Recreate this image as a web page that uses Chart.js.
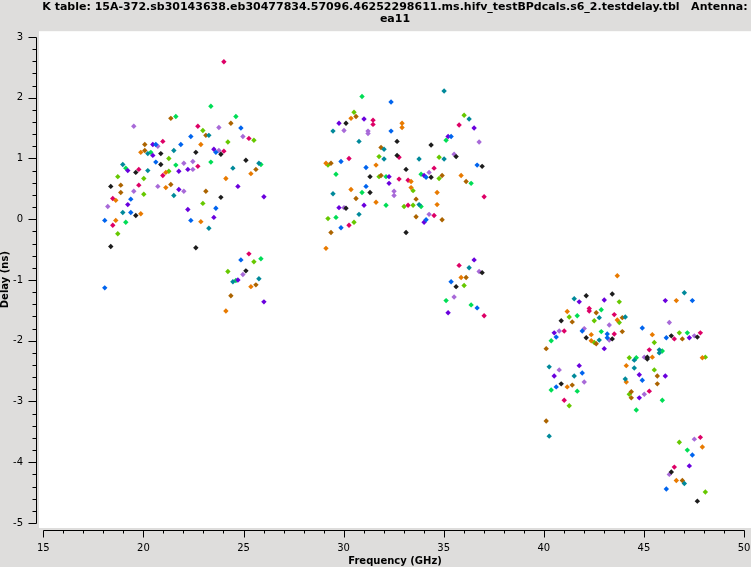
<!DOCTYPE html>
<html>
<head>
<meta charset="utf-8">
<script src="https://cdn.jsdelivr.net/npm/chart.js@4.4.1/dist/chart.umd.min.js"></script>
<style>
  html, body { margin: 0; padding: 0; background: #dedddc; }
  #wrap { width: 751px; height: 567px; }
  canvas { display: block; }
</style>
</head>
<body>
<div id="wrap"><canvas id="myChart" width="751" height="567"></canvas></div>
<script>
const titleLines = [
  'K table: 15A-372.sb30143638.eb30477834.57096.46252298611.ms.hifv_testBPdcals.s6_2.testdelay.tbl   Antenna:',
  'ea11'
];
const xTicks = [15, 20, 25, 30, 35, 40, 45, 50];
const yTicks = [-5, -4, -3, -2, -1, 0, 1, 2, 3];

// frequency (GHz) / delay (ns), one pair of arrays per colour
const blackFreq = [20.87, 20.87, 19.62, 18.37, 19.62, 18.37, 22.62, 23.87, 25.12, 23.87, 22.62, 25.12, 30.12, 31.32, 31.32, 30.12, 32.67, 34.37, 32.67, 35.62, 33.12, 36.92, 34.37, 33.12, 36.92, 35.62, 42.12, 43.42, 40.87, 42.12, 43.42, 40.87, 46.37, 47.67, 45.17, 45.17, 46.37, 47.67];
const blackDelay = [1.08, 0.90, 0.77, 0.54, 0.06, -0.45, 1.10, 1.07, 0.97, 0.36, -0.47, -0.85, 1.58, 0.70, 0.44, 0.18, 1.28, 1.22, 1.05, 1.03, 0.82, 0.87, 0.69, -0.22, -0.88, -1.11, -1.26, -1.23, -1.67, -1.95, -1.97, -2.71, -1.92, -1.94, -2.27, -2.30, -4.16, -4.64];

const blueFreq = [20.62, 21.87, 20.62, 19.37, 19.37, 18.07, 18.07, 24.87, 22.37, 23.62, 23.62, 22.37, 24.87, 29.87, 31.12, 31.12, 29.87, 32.37, 32.37, 35.37, 36.67, 34.12, 34.12, 35.37, 36.67, 41.92, 40.62, 43.17, 43.17, 41.92, 40.62, 47.42, 44.92, 46.12, 44.92, 47.42, 46.12];
const blueDelay = [1.23, 1.23, 0.94, 0.33, 0.11, -0.02, -1.13, 1.50, 1.36, 1.10, 0.18, -0.02, -0.67, 0.95, 0.85, 0.54, -0.14, 1.93, 1.45, 1.36, 0.89, 0.69, -0.01, -1.03, -1.46, -1.84, -1.94, -1.89, -1.95, -2.53, -2.76, -1.34, -1.79, -1.95, -2.65, -3.88, -4.44];

const tealFreq = [20.22, 21.52, 18.97, 20.22, 21.52, 18.97, 23.27, 24.47, 25.77, 23.27, 25.77, 24.47, 29.47, 30.77, 29.47, 30.77, 35.02, 36.27, 32.02, 32.02, 33.77, 35.02, 33.77, 36.27, 41.52, 42.77, 44.07, 42.77, 44.52, 40.27, 44.52, 41.52, 44.07, 40.27, 47.02, 45.77, 45.77, 47.02];
const tealDelay = [1.08, 1.13, 0.90, 0.80, 0.39, 0.11, 1.38, 0.84, 0.92, -0.15, -0.98, -1.03, 1.45, 1.28, 0.42, 0.08, 2.11, 1.65, 1.15, 0.99, 0.99, 0.99, 0.24, -0.80, -1.31, -1.62, -1.61, -1.99, -2.32, -2.43, -2.45, -2.58, -2.63, -3.57, -1.21, -2.15, -2.20, -4.35];

const orangeFreq = [19.87, 21.12, 21.12, 18.62, 19.87, 18.62, 22.87, 25.37, 24.12, 22.87, 25.37, 24.12, 30.37, 29.12, 30.37, 29.12, 32.92, 32.92, 31.62, 35.87, 33.37, 33.37, 34.67, 31.62, 34.67, 35.87, 43.67, 41.17, 43.67, 42.37, 42.37, 44.12, 44.12, 41.17, 46.62, 45.42, 45.42, 47.92, 47.92, 46.62];
const orangeDelay = [1.10, 0.77, 0.52, 0.31, 0.09, -0.02, 1.23, 0.75, 0.67, -0.04, -1.11, -1.51, 1.66, 0.92, 0.49, -0.48, 1.58, 1.51, 0.89, 0.72, 0.62, 0.52, 0.44, 0.28, 0.24, -0.96, -0.93, -1.52, -1.66, -1.90, -2.00, -2.41, -2.68, -2.76, -1.34, -1.90, -2.27, -2.28, -3.75, -4.30];

const brownFreq = [21.37, 20.07, 20.07, 18.87, 21.37, 18.87, 23.12, 24.37, 25.62, 23.12, 25.62, 24.37, 30.62, 29.37, 30.62, 29.37, 31.87, 31.87, 34.92, 36.12, 33.62, 33.62, 34.92, 36.12, 42.62, 43.92, 41.42, 43.92, 42.62, 40.12, 41.42, 44.37, 44.37, 40.12, 46.92, 45.67, 45.67, 46.92];
const brownDelay = [1.66, 1.23, 1.13, 0.56, 0.57, 0.44, 1.38, 1.58, 0.82, 0.46, -1.08, -1.26, 1.69, 0.92, 0.34, -0.22, 1.18, 0.72, 0.72, 0.62, 0.33, 0.04, -0.01, -0.96, -1.54, -1.62, -1.69, -1.85, -2.05, -2.13, -2.73, -2.84, -2.94, -3.32, -1.97, -2.58, -2.71, -4.30];

const magentaFreq = [20.97, 19.77, 20.97, 19.77, 18.47, 18.47, 24.02, 22.72, 25.27, 24.02, 22.72, 25.27, 30.27, 30.27, 31.47, 31.47, 35.77, 32.77, 34.52, 32.77, 33.22, 37.02, 33.22, 34.52, 35.77, 37.02, 42.27, 42.27, 43.52, 41.02, 43.52, 41.02, 47.82, 46.52, 45.27, 45.27, 47.82, 46.52];
const magentaDelay = [1.28, 0.82, 0.72, 0.56, 0.34, -0.10, 2.59, 1.53, 1.33, 1.12, 0.87, -0.57, 1.00, -0.10, 1.63, 1.56, 1.55, 1.02, 0.84, 0.66, 0.64, 0.37, 0.23, 0.06, -0.76, -1.59, -1.47, -1.51, -1.57, -1.84, -1.89, -2.98, -1.87, -1.97, -2.15, -2.83, -3.59, -4.08];

const purpleFreq = [20.47, 20.47, 19.22, 21.77, 21.77, 19.22, 23.52, 22.22, 24.72, 26.02, 22.22, 23.52, 24.72, 26.02, 31.02, 29.77, 31.02, 29.77, 36.52, 35.22, 32.27, 34.02, 32.27, 34.02, 36.52, 35.22, 41.77, 43.02, 40.52, 43.02, 41.77, 40.52, 46.07, 47.27, 44.77, 46.07, 44.77, 47.27];
const purpleDelay = [1.23, 1.05, 0.80, 0.79, 0.49, 0.24, 1.15, 0.82, 0.54, 0.37, 0.16, 0.03, -1.00, -1.36, 1.65, 1.58, 0.23, 0.19, 1.50, 1.36, 0.70, 0.72, 0.59, -0.05, -0.67, -1.54, -1.36, -1.33, -1.87, -2.13, -2.41, -2.58, -1.34, -1.95, -2.56, -2.58, -2.94, -4.06];

const lavenderFreq = [19.52, 20.72, 20.72, 19.52, 18.22, 23.77, 24.97, 23.77, 22.02, 22.47, 22.47, 22.02, 24.97, 30.02, 31.22, 31.22, 30.02, 36.77, 35.52, 34.27, 32.52, 32.52, 34.27, 36.77, 35.52, 43.27, 42.02, 40.77, 43.27, 40.77, 42.02, 46.27, 47.52, 45.02, 45.02, 47.52, 46.27];
const lavenderDelay = [1.53, 1.20, 0.54, 0.46, 0.21, 1.51, 1.36, 1.13, 0.92, 0.95, 0.82, 0.46, -0.91, 1.46, 1.45, 1.41, 0.19, 1.27, 1.07, 0.77, 0.46, 0.39, 0.08, -0.86, -1.28, -1.74, -1.80, -1.84, -1.99, -2.48, -2.68, -1.70, -1.92, -2.27, -2.88, -3.62, -4.20];

const greenFreq = [21.62, 20.37, 21.62, 19.12, 19.12, 23.37, 24.62, 23.37, 25.87, 25.87, 24.62, 30.92, 29.62, 30.92, 29.62, 35.12, 33.87, 32.12, 36.37, 32.12, 33.87, 35.12, 36.37, 42.87, 41.67, 42.87, 40.37, 44.62, 40.37, 41.67, 44.62, 47.17, 45.92, 45.92, 47.17];
const greenDelay = [1.69, 1.10, 0.89, 0.84, -0.05, 1.86, 1.69, 0.94, 0.90, -0.65, -1.01, 2.02, 0.74, 0.44, 0.03, 1.30, 0.74, 0.70, 0.59, 0.23, 0.21, -1.34, -1.41, -1.49, -1.59, -1.85, -2.00, -2.28, -2.81, -2.83, -3.14, -1.87, -2.17, -2.98, -3.80];

const limeFreq = [21.27, 21.27, 18.72, 20.02, 20.02, 18.72, 22.97, 24.22, 25.52, 22.97, 25.52, 24.22, 30.52, 29.22, 29.22, 30.52, 36.02, 31.77, 34.77, 31.77, 34.77, 33.47, 33.02, 33.47, 36.02, 43.77, 41.27, 42.52, 43.77, 42.52, 44.27, 44.27, 41.27, 46.77, 45.52, 45.52, 46.77, 48.07, 48.07];
const limeDelay = [1.00, 0.79, 0.70, 0.67, 0.41, -0.24, 1.46, 1.27, 1.30, 0.26, -0.70, -0.86, 1.76, 0.89, 0.01, -0.05, 1.71, 1.03, 1.02, 0.70, 0.67, 0.47, 0.21, 0.23, -1.09, -1.36, -1.61, -1.67, -1.70, -2.03, -2.28, -2.88, -3.07, -1.87, -2.03, -2.48, -3.67, -2.27, -4.49];

const series = [
  { color: '#1c1c1c', freq: blackFreq, delay: blackDelay },
  { color: '#0064ee', freq: blueFreq, delay: blueDelay },
  { color: '#00899a', freq: tealFreq, delay: tealDelay },
  { color: '#e87a00', freq: orangeFreq, delay: orangeDelay },
  { color: '#ac6400', freq: brownFreq, delay: brownDelay },
  { color: '#dd0066', freq: magentaFreq, delay: magentaDelay },
  { color: '#6a00dd', freq: purpleFreq, delay: purpleDelay },
  { color: '#a86ad8', freq: lavenderFreq, delay: lavenderDelay },
  { color: '#00dd55', freq: greenFreq, delay: greenDelay },
  { color: '#66c800', freq: limeFreq, delay: limeDelay },
];

const font = 'DejaVu Sans';

// grey page, white plotting area, axis lines with major/minor ticks
const frame = {
  id: 'frame',
  beforeDraw(chart) {
    const { ctx, chartArea: a } = chart;
    ctx.save();
    ctx.fillStyle = '#dedddc';
    ctx.fillRect(0, 0, chart.width, chart.height);
    ctx.fillStyle = '#ffffff';
    ctx.fillRect(a.left, a.top, a.right - a.left, a.bottom - a.top);
    ctx.restore();
  },
  afterDraw(chart) {
    const { ctx, chartArea: a, scales } = chart;
    const x = scales.x, y = scales.y;
    ctx.save();
    ctx.strokeStyle = '#000';
    ctx.lineWidth = 1;
    ctx.beginPath();
    const yy = Math.round(a.bottom + 2) + 0.5;
    ctx.moveTo(Math.round(x.getPixelForValue(15)) + 0.5, yy);
    ctx.lineTo(Math.round(x.getPixelForValue(50)) + 0.5, yy);
    for (let v = 15; v <= 50; v++) {
      const px = Math.round(x.getPixelForValue(v)) + 0.5;
      ctx.moveTo(px, yy);
      ctx.lineTo(px, yy + (v % 5 === 0 ? 7 : 3));
    }
    const xx = Math.round(a.left - 3) + 0.5;
    ctx.moveTo(xx, Math.round(y.getPixelForValue(3)) + 0.5);
    ctx.lineTo(xx, Math.round(y.getPixelForValue(-5)) + 0.5);
    for (let i = 0; i <= 40; i++) {
      const v = -5 + i * 0.2;
      const py = Math.round(y.getPixelForValue(v)) + 0.5;
      ctx.moveTo(xx, py);
      ctx.lineTo(xx - (i % 5 === 0 ? 8 : 4), py);
    }
    ctx.stroke();
    ctx.restore();
  }
};

new Chart(document.getElementById('myChart'), {
  type: 'scatter',
  data: {
    datasets: series.map(s => ({
      data: s.freq.map((f, i) => ({ x: f, y: s.delay[i] })),
      backgroundColor: s.color,
      borderWidth: 0,
      pointStyle: 'rectRot',
      pointRadius: 2.7,
      pointHoverRadius: 2.7
    }))
  },
  options: {
    responsive: false,
    animation: false,
    devicePixelRatio: 1,
    layout: { padding: 0, autoPadding: false },
    plugins: {
      legend: { display: false },
      tooltip: { enabled: false },
      title: {
        display: true,
        text: titleLines,
        color: '#000',
        fullSize: false,
        font: { family: font, size: 11, weight: 'bold', lineHeight: 1.1 },
        padding: { top: 1, bottom: 6 }
      }
    },
    scales: {
      x: {
        type: 'linear',
        min: 14.785,
        max: 50.35,
        afterBuildTicks: s => { s.ticks = xTicks.map(v => ({ value: v })); },
        afterFit: s => { s.height = 39; s.paddingLeft = 0; s.paddingRight = 0; },
        border: { display: false },
        grid: { drawOnChartArea: false, color: 'transparent', tickColor: 'transparent', tickLength: 9 },
        ticks: { color: '#000', padding: 5, maxRotation: 0, autoSkip: false, font: { family: font, size: 10 } },
        title: { display: true, text: 'Frequency (GHz)', color: '#000', padding: 0, font: { family: font, size: 10, weight: 'bold' } }
      },
      y: {
        type: 'linear',
        min: -5.082,
        max: 3.094,
        afterBuildTicks: s => { s.ticks = yTicks.map(v => ({ value: v })); },
        afterFit: s => { s.width = 39; s.paddingTop = 0; s.paddingBottom = 0; },
        border: { display: false },
        grid: { drawOnChartArea: false, color: 'transparent', tickColor: 'transparent', tickLength: 10 },
        ticks: { color: '#000', padding: 6, font: { family: font, size: 10 } },
        title: { display: true, text: 'Delay (ns)', color: '#000', padding: 0, font: { family: font, size: 10, weight: 'bold', lineHeight: 1.0 } }
      }
    }
  },
  plugins: [frame]
});
</script>
</body>
</html>
